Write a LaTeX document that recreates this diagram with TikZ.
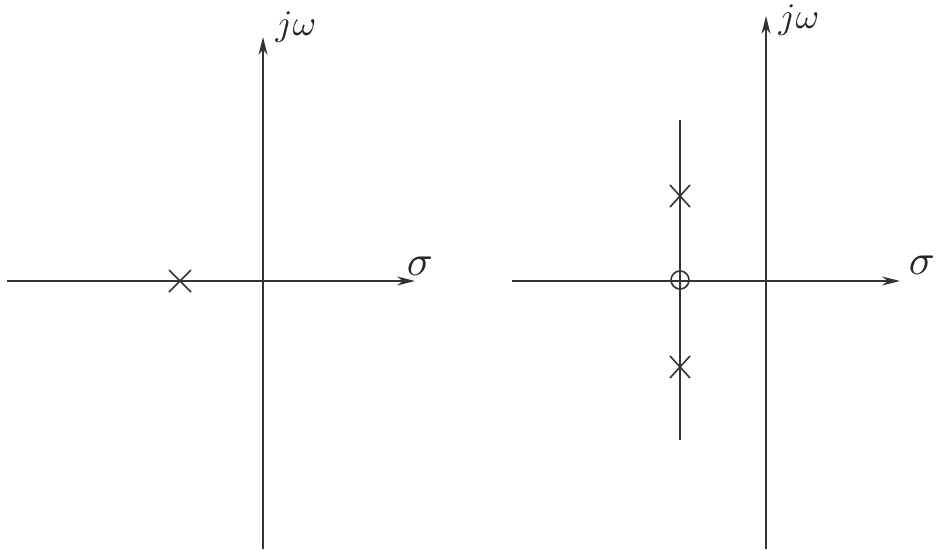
\documentclass[tikz,border=0pt]{standalone}
\usetikzlibrary{arrows.meta,calc}
\begin{document}
\begin{tikzpicture}[x=1pt,y=-1pt,
  axis/.style={line width=1.4pt,draw=black!80,-{Stealth[length=18pt,width=9pt]}},
  plain/.style={line width=1.4pt,draw=black!80},
  lbl/.style={inner sep=0pt,text=black!85},
  pole/.style={line width=1.6pt,draw=black!80}]
\fill[white] (0,0) rectangle (936,549);
\useasboundingbox (0,0) rectangle (936,549);
% left plane
\coordinate (L0) at (263,549);
\coordinate (L1) at (263,37);
\coordinate (LH0) at (7,281);
\coordinate (LH1) at (415,281);
\draw[axis] (L0) -- (L1);
\draw[axis] (LH0) -- (LH1);
\node[lbl] (ljw) at (296,27) {\scalebox{3.6}{$j\omega$}};
\node[lbl] (ls) at (420,266) {\scalebox{4.3}{$\sigma$}};
\coordinate (p1) at (180,281);
\draw[pole] ($(p1)+(-11,-11)$) -- ($(p1)+(11,11)$);
\draw[pole] ($(p1)+(-11,11)$) -- ($(p1)+(11,-11)$);
% right plane
\coordinate (R0) at (766,549);
\coordinate (R1) at (766,16);
\coordinate (RH0) at (512,281);
\coordinate (RH1) at (900,281);
\draw[axis] (R0) -- (R1);
\draw[axis] (RH0) -- (RH1);
\node[lbl] (rjw) at (799,20) {\scalebox{3.6}{$j\omega$}};
\node[lbl] (rs) at (922,265) {\scalebox{4.3}{$\sigma$}};
\coordinate (v0) at (680,120);
\coordinate (v1) at (680,440);
\draw[plain] (v0) -- (v1);
\coordinate (p2) at (680,196);
\coordinate (p3) at (680,367);
\foreach \p in {p2,p3}{
  \draw[pole] ($(\p)+(-10,-11)$) -- ($(\p)+(10,11)$);
  \draw[pole] ($(\p)+(-10,11)$) -- ($(\p)+(10,-11)$);
}
\node[draw=black!80,line width=1.6pt,circle,minimum size=18pt,inner sep=0pt] (z1) at (680,280) {};
\end{tikzpicture}
\end{document}
